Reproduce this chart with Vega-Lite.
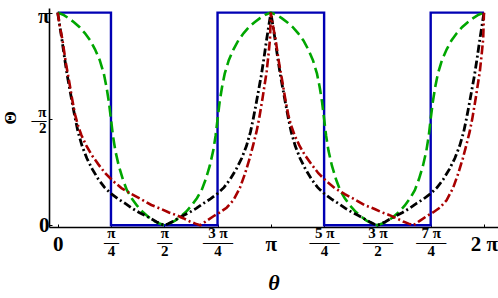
{
  "$schema": "https://vega.github.io/schema/vega-lite/v6.json",
  "width": 449,
  "height": 219,
  "autosize": {"type": "none"},
  "padding": {"left": 49, "top": 8, "right": 0, "bottom": 71},
  "config": {"view": {"stroke": null}, "font": "Liberation Serif"},
  "datasets": {
    "blue": [
      {"x": 0, "y": 3.1416, "o": 0}, {"x": 0.7854, "y": 3.1416, "o": 1}, {"x": 0.7854, "y": 0, "o": 2},
      {"x": 2.3562, "y": 0, "o": 3}, {"x": 2.3562, "y": 3.1416, "o": 4}, {"x": 3.927, "y": 3.1416, "o": 5},
      {"x": 3.927, "y": 0, "o": 6}, {"x": 5.4978, "y": 0, "o": 7}, {"x": 5.4978, "y": 3.1416, "o": 8},
      {"x": 6.2832, "y": 3.1416, "o": 9}
    ],
    "green": [
      {"x": 0, "y": 3.1416}, {"x": 0.08, "y": 3.11}, {"x": 0.16, "y": 3.06}, {"x": 0.24, "y": 3.0}, {"x": 0.32, "y": 2.93},
      {"x": 0.4, "y": 2.84}, {"x": 0.48, "y": 2.73}, {"x": 0.55, "y": 2.6}, {"x": 0.62, "y": 2.44}, {"x": 0.68, "y": 2.24},
      {"x": 0.72, "y": 2.04}, {"x": 0.755, "y": 1.82}, {"x": 0.785, "y": 1.571}, {"x": 0.815, "y": 1.32}, {"x": 0.85, "y": 1.1},
      {"x": 0.9, "y": 0.88}, {"x": 0.96, "y": 0.68}, {"x": 1.02, "y": 0.52}, {"x": 1.09, "y": 0.4}, {"x": 1.17, "y": 0.29},
      {"x": 1.25, "y": 0.2}, {"x": 1.33, "y": 0.13}, {"x": 1.41, "y": 0.07}, {"x": 1.49, "y": 0.03}, {"x": 1.571, "y": 0},
      {"x": 1.652, "y": 0.03}, {"x": 1.732, "y": 0.07}, {"x": 1.812, "y": 0.13}, {"x": 1.892, "y": 0.2}, {"x": 1.972, "y": 0.29},
      {"x": 2.052, "y": 0.4}, {"x": 2.122, "y": 0.52}, {"x": 2.182, "y": 0.68}, {"x": 2.242, "y": 0.88}, {"x": 2.292, "y": 1.1},
      {"x": 2.327, "y": 1.32}, {"x": 2.357, "y": 1.571}, {"x": 2.387, "y": 1.82}, {"x": 2.422, "y": 2.04}, {"x": 2.462, "y": 2.24},
      {"x": 2.522, "y": 2.44}, {"x": 2.592, "y": 2.6}, {"x": 2.662, "y": 2.73}, {"x": 2.742, "y": 2.84}, {"x": 2.822, "y": 2.93},
      {"x": 2.902, "y": 3.0}, {"x": 2.982, "y": 3.06}, {"x": 3.062, "y": 3.11}, {"x": 3.1416, "y": 3.1416},
      {"x": 3.222, "y": 3.11}, {"x": 3.302, "y": 3.06}, {"x": 3.382, "y": 3.0}, {"x": 3.462, "y": 2.93}, {"x": 3.542, "y": 2.84},
      {"x": 3.622, "y": 2.73}, {"x": 3.692, "y": 2.6}, {"x": 3.762, "y": 2.44}, {"x": 3.822, "y": 2.24}, {"x": 3.862, "y": 2.04},
      {"x": 3.897, "y": 1.82}, {"x": 3.927, "y": 1.571}, {"x": 3.957, "y": 1.32}, {"x": 3.992, "y": 1.1}, {"x": 4.042, "y": 0.88},
      {"x": 4.102, "y": 0.68}, {"x": 4.162, "y": 0.52}, {"x": 4.232, "y": 0.4}, {"x": 4.312, "y": 0.29}, {"x": 4.392, "y": 0.2},
      {"x": 4.472, "y": 0.13}, {"x": 4.552, "y": 0.07}, {"x": 4.632, "y": 0.03}, {"x": 4.712, "y": 0}, {"x": 4.794, "y": 0.03},
      {"x": 4.874, "y": 0.07}, {"x": 4.954, "y": 0.13}, {"x": 5.034, "y": 0.2}, {"x": 5.114, "y": 0.29}, {"x": 5.194, "y": 0.4},
      {"x": 5.264, "y": 0.52}, {"x": 5.324, "y": 0.68}, {"x": 5.384, "y": 0.88}, {"x": 5.434, "y": 1.1}, {"x": 5.469, "y": 1.32},
      {"x": 5.498, "y": 1.571}, {"x": 5.529, "y": 1.82}, {"x": 5.564, "y": 2.04}, {"x": 5.604, "y": 2.24}, {"x": 5.664, "y": 2.44},
      {"x": 5.734, "y": 2.6}, {"x": 5.804, "y": 2.73}, {"x": 5.884, "y": 2.84}, {"x": 5.964, "y": 2.93}, {"x": 6.044, "y": 3.0},
      {"x": 6.124, "y": 3.06}, {"x": 6.204, "y": 3.11}, {"x": 6.283, "y": 3.1416}
    ],
    "black": [
      {"x": 0, "y": 3.1416}, {"x": 0.03, "y": 2.95}, {"x": 0.06, "y": 2.76}, {"x": 0.1, "y": 2.48}, {"x": 0.14, "y": 2.22},
      {"x": 0.18, "y": 2.0}, {"x": 0.22, "y": 1.78}, {"x": 0.26, "y": 1.57}, {"x": 0.3, "y": 1.38}, {"x": 0.36, "y": 1.17},
      {"x": 0.43, "y": 0.99}, {"x": 0.51, "y": 0.83}, {"x": 0.6, "y": 0.68}, {"x": 0.69, "y": 0.56}, {"x": 0.785, "y": 0.47},
      {"x": 0.89, "y": 0.39}, {"x": 1.0, "y": 0.32}, {"x": 1.1, "y": 0.25}, {"x": 1.2, "y": 0.19}, {"x": 1.29, "y": 0.145},
      {"x": 1.38, "y": 0.095}, {"x": 1.46, "y": 0.05}, {"x": 1.52, "y": 0.02}, {"x": 1.571, "y": 0},
      {"x": 1.622, "y": 0.02}, {"x": 1.682, "y": 0.05}, {"x": 1.762, "y": 0.095}, {"x": 1.852, "y": 0.145}, {"x": 1.942, "y": 0.19},
      {"x": 2.042, "y": 0.25}, {"x": 2.142, "y": 0.32}, {"x": 2.252, "y": 0.39}, {"x": 2.357, "y": 0.47}, {"x": 2.452, "y": 0.56},
      {"x": 2.542, "y": 0.68}, {"x": 2.632, "y": 0.83}, {"x": 2.712, "y": 0.99}, {"x": 2.782, "y": 1.17}, {"x": 2.842, "y": 1.38},
      {"x": 2.882, "y": 1.57}, {"x": 2.922, "y": 1.78}, {"x": 2.962, "y": 2.0}, {"x": 3.002, "y": 2.22}, {"x": 3.042, "y": 2.48},
      {"x": 3.082, "y": 2.76}, {"x": 3.112, "y": 2.95}, {"x": 3.1416, "y": 3.1416},
      {"x": 3.172, "y": 2.95}, {"x": 3.202, "y": 2.76}, {"x": 3.242, "y": 2.48}, {"x": 3.282, "y": 2.22}, {"x": 3.322, "y": 2.0},
      {"x": 3.362, "y": 1.78}, {"x": 3.402, "y": 1.57}, {"x": 3.442, "y": 1.38}, {"x": 3.502, "y": 1.17}, {"x": 3.572, "y": 0.99},
      {"x": 3.652, "y": 0.83}, {"x": 3.742, "y": 0.68}, {"x": 3.832, "y": 0.56}, {"x": 3.927, "y": 0.47}, {"x": 4.032, "y": 0.39},
      {"x": 4.142, "y": 0.32}, {"x": 4.242, "y": 0.25}, {"x": 4.342, "y": 0.19}, {"x": 4.432, "y": 0.145}, {"x": 4.522, "y": 0.095},
      {"x": 4.602, "y": 0.05}, {"x": 4.662, "y": 0.02}, {"x": 4.712, "y": 0}, {"x": 4.764, "y": 0.02}, {"x": 4.824, "y": 0.05},
      {"x": 4.904, "y": 0.095}, {"x": 4.994, "y": 0.145}, {"x": 5.084, "y": 0.19}, {"x": 5.184, "y": 0.25}, {"x": 5.284, "y": 0.32},
      {"x": 5.394, "y": 0.39}, {"x": 5.498, "y": 0.47}, {"x": 5.594, "y": 0.56}, {"x": 5.684, "y": 0.68}, {"x": 5.774, "y": 0.83},
      {"x": 5.854, "y": 0.99}, {"x": 5.924, "y": 1.17}, {"x": 5.984, "y": 1.38}, {"x": 6.024, "y": 1.57}, {"x": 6.064, "y": 1.78},
      {"x": 6.104, "y": 2.0}, {"x": 6.144, "y": 2.22}, {"x": 6.184, "y": 2.48}, {"x": 6.224, "y": 2.76}, {"x": 6.254, "y": 2.95},
      {"x": 6.283, "y": 3.1416}
    ],
    "red": [
      {"x": 0, "y": 3.1416}, {"x": 0.03, "y": 2.95}, {"x": 0.07, "y": 2.74}, {"x": 0.12, "y": 2.4}, {"x": 0.17, "y": 2.12},
      {"x": 0.21, "y": 1.88}, {"x": 0.255, "y": 1.64}, {"x": 0.3, "y": 1.47}, {"x": 0.35, "y": 1.33}, {"x": 0.42, "y": 1.18},
      {"x": 0.5, "y": 1.04}, {"x": 0.6, "y": 0.9}, {"x": 0.7, "y": 0.77}, {"x": 0.82, "y": 0.65}, {"x": 0.94, "y": 0.55},
      {"x": 1.09, "y": 0.46}, {"x": 1.24, "y": 0.38}, {"x": 1.38, "y": 0.3}, {"x": 1.53, "y": 0.24}, {"x": 1.64, "y": 0.19},
      {"x": 1.75, "y": 0.15}, {"x": 1.85, "y": 0.105}, {"x": 1.95, "y": 0.056}, {"x": 2.03, "y": 0.025}, {"x": 2.1, "y": 0},
      {"x": 2.2, "y": 0.07}, {"x": 2.29, "y": 0.13}, {"x": 2.39, "y": 0.19}, {"x": 2.49, "y": 0.26}, {"x": 2.59, "y": 0.37},
      {"x": 2.685, "y": 0.55}, {"x": 2.76, "y": 0.76}, {"x": 2.83, "y": 0.99}, {"x": 2.88, "y": 1.18}, {"x": 2.93, "y": 1.38},
      {"x": 2.97, "y": 1.58}, {"x": 3.02, "y": 1.88}, {"x": 3.08, "y": 2.27}, {"x": 3.11, "y": 2.55}, {"x": 3.13, "y": 2.76},
      {"x": 3.1416, "y": 3.1416},
      {"x": 3.172, "y": 2.95}, {"x": 3.212, "y": 2.74}, {"x": 3.262, "y": 2.4}, {"x": 3.312, "y": 2.12}, {"x": 3.352, "y": 1.88},
      {"x": 3.397, "y": 1.64}, {"x": 3.442, "y": 1.47}, {"x": 3.492, "y": 1.33}, {"x": 3.562, "y": 1.18}, {"x": 3.642, "y": 1.04},
      {"x": 3.742, "y": 0.9}, {"x": 3.842, "y": 0.77}, {"x": 3.962, "y": 0.65}, {"x": 4.082, "y": 0.55}, {"x": 4.232, "y": 0.46},
      {"x": 4.382, "y": 0.38}, {"x": 4.522, "y": 0.3}, {"x": 4.672, "y": 0.24}, {"x": 4.782, "y": 0.19}, {"x": 4.892, "y": 0.15},
      {"x": 4.992, "y": 0.105}, {"x": 5.092, "y": 0.056}, {"x": 5.172, "y": 0.025}, {"x": 5.242, "y": 0}, {"x": 5.342, "y": 0.07},
      {"x": 5.432, "y": 0.13}, {"x": 5.532, "y": 0.19}, {"x": 5.632, "y": 0.26}, {"x": 5.732, "y": 0.37}, {"x": 5.827, "y": 0.55},
      {"x": 5.902, "y": 0.76}, {"x": 5.972, "y": 0.99}, {"x": 6.022, "y": 1.18}, {"x": 6.072, "y": 1.38}, {"x": 6.112, "y": 1.58},
      {"x": 6.162, "y": 1.88}, {"x": 6.222, "y": 2.27}, {"x": 6.252, "y": 2.55}, {"x": 6.272, "y": 2.76}, {"x": 6.283, "y": 3.1416}
    ]
  },
  "encoding": {
    "x": {
      "field": "x", "type": "quantitative",
      "scale": {"domain": [-0.128, 6.49], "nice": false, "zero": false},
      "axis": {
        "values": [0, 0.7854, 1.5708, 2.3562, 3.1416, 3.927, 4.7124, 5.4978, 6.2832],
        "labelExpr": "[['0'], ['π','—','4'], ['π','—','2'], ['3 π','——','4'], ['π'], ['5 π','——','4'], ['3 π','——','2'], ['7 π','——','4'], ['2 π']][round(datum.value*4/PI)]",
        "labelFont": "Liberation Serif",
        "labelFontWeight": "bold",
        "labelFontSize": {"condition": {"test": "round(datum.value*4/PI) % 4 == 0", "value": 21}, "value": 15},
        "labelLineHeight": 9,
        "labelBaseline": "top",
        "labelPadding": {"condition": {"test": "round(datum.value*4/PI) % 4 == 0", "value": 9}, "value": 1},
        "labelColor": "#000",
        "labelOverlap": false,
        "labelFlush": false,
        "tickSize": -3,
        "tickColor": "#000",
        "domainColor": "#000",
        "domainWidth": 1.6,
        "grid": false,
        "title": "θ",
        "titleFont": "Liberation Serif",
        "titleFontStyle": "italic",
        "titleFontWeight": "bold",
        "titleFontSize": 22,
        "titleColor": "#000",
        "titlePadding": 14
      }
    },
    "y": {
      "field": "y", "type": "quantitative",
      "scale": {"domain": [-0.025, 3.21], "nice": false, "zero": false},
      "axis": {
        "values": [0, 1.5708, 3.1416],
        "labelExpr": "[['0'], ['π','—','2'], ['π']][round(datum.value*2/PI)]",
        "labelFont": "Liberation Serif",
        "labelFontWeight": "bold",
        "labelFontSize": {"condition": {"test": "round(datum.value*2/PI) == 1", "value": 15}, "value": 21},
        "labelLineHeight": 8,
        "labelBaseline": "middle",
        "labelAlign": "right",
        "labelOffset": {"condition": [{"test": "round(datum.value*2/PI) == 0", "value": 0}, {"test": "round(datum.value*2/PI) == 1", "value": -7}], "value": 4},
        "labelPadding": {"condition": {"test": "round(datum.value*2/PI) == 1", "value": 6}, "value": 3},
        "labelColor": "#000",
        "labelOverlap": false,
        "labelFlush": false,
        "tickSize": -3,
        "tickColor": "#000",
        "domainColor": "#000",
        "domainWidth": 1.6,
        "grid": false,
        "title": "Θ",
        "titleFont": "Liberation Serif",
        "titleFontWeight": "bold",
        "titleFontSize": 17,
        "titleColor": "#000",
        "titlePadding": 12
      }
    }
  },
  "layer": [
    {"data": {"name": "blue"}, "mark": {"type": "line", "stroke": "#0000b4", "strokeWidth": 2.4}, "encoding": {"order": {"field": "o", "type": "quantitative"}}},
    {"data": {"name": "green"}, "mark": {"type": "line", "stroke": "#00a600", "strokeWidth": 2.6, "strokeDash": [11, 5]}, "encoding": {}},
    {"data": {"name": "black"}, "mark": {"type": "line", "stroke": "#000000", "strokeWidth": 2.8, "strokeDash": [8, 3, 2, 3]}, "encoding": {}},
    {"data": {"name": "red"}, "mark": {"type": "line", "stroke": "#a80000", "strokeWidth": 2.6, "strokeDash": [9, 3, 2, 3]}, "encoding": {}}
  ]
}
